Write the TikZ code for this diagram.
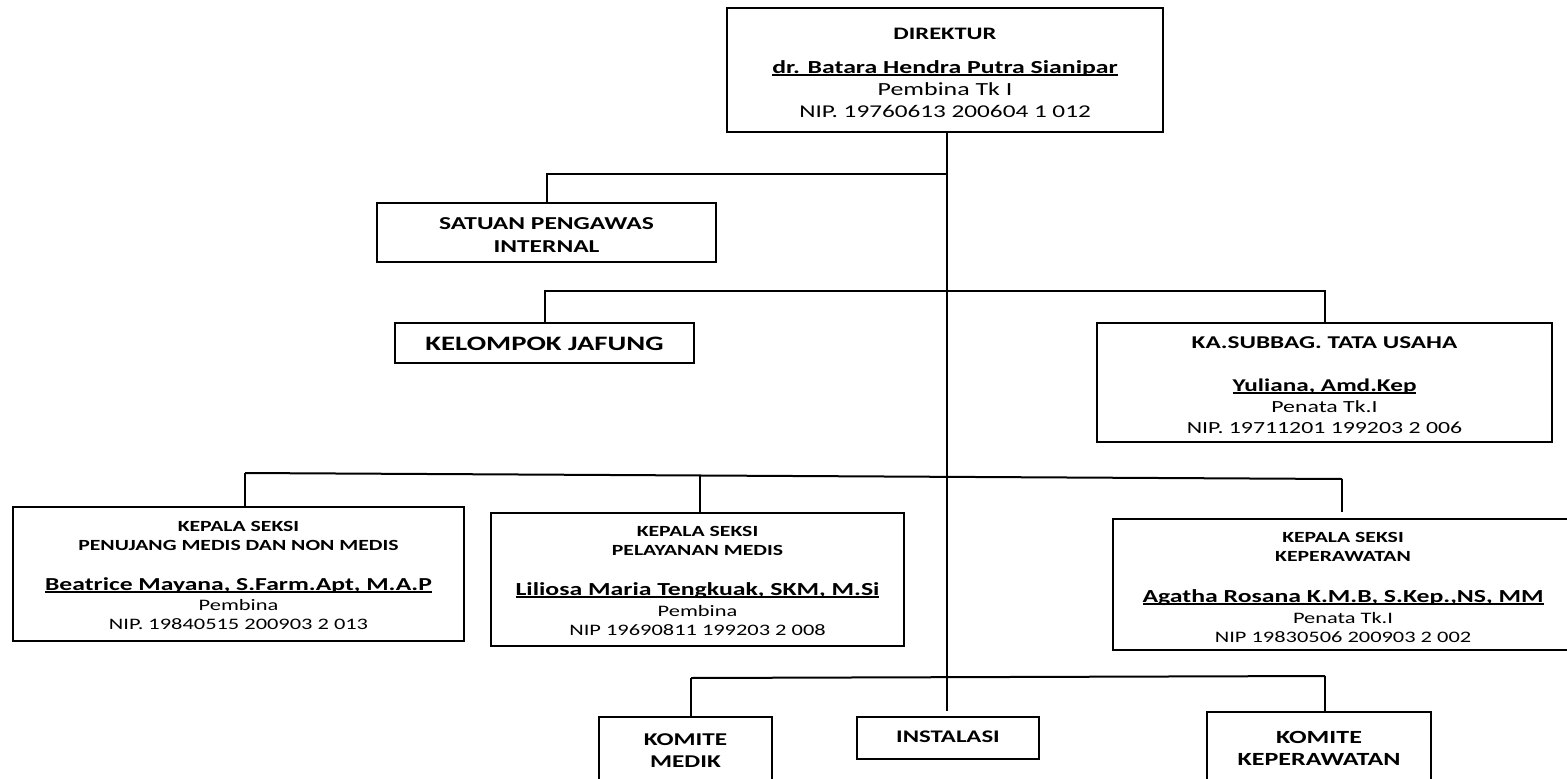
\documentclass[tikz,border=0pt]{standalone}
\usepackage{fontspec}
\setmainfont{Carlito}[FakeStretch=1.4]
\newcommand{\fz}[1]{\fontsize{#1}{#1}\selectfont}
\newcommand{\myul}[1]{\setbox0=\hbox{#1}\rlap{\rule[-2.6pt]{\wd0}{1.3pt}}\box0}
\tikzset{
  box/.style={draw=black, line width=2.4pt, rectangle, inner sep=0pt, outer sep=0pt},
  txt/.style={inner sep=0pt, outer sep=0pt, anchor=base, text=black},
  conn/.style={draw=black, line width=2pt},
}
\begin{document}
\begin{tikzpicture}[x=1pt,y=-1pt]
\useasboundingbox[fill=white] (0,0) rectangle (1567,779);

% ---------- boxes ----------
\node[box, minimum width=436pt, minimum height=124pt] (dir) at (945,70) {};
\node[box, minimum width=339pt, minimum height=59pt] (spi) at (546.5,232.5) {};
\node[box, minimum width=299pt, minimum height=40pt] (kel) at (544.5,343) {};
\node[box, minimum width=455pt, minimum height=119pt] (ka) at (1324.5,382.5) {};
\node[box, minimum width=451pt, minimum height=134pt] (s1) at (238.5,574) {};
\node[box, minimum width=413pt, minimum height=133pt] (s2) at (697.5,579.5) {};
\node[box, minimum width=460pt, minimum height=131pt] (s3) at (1343,584.5) {};
\node[box, minimum width=173pt, minimum height=73pt] (km) at (685.5,753.5) {};
\node[box, minimum width=182pt, minimum height=42pt] (ins) at (948,738) {};
\node[box, minimum width=224pt, minimum height=78pt] (kk) at (1319,751) {};

% ---------- texts ----------
% Direktur
\node[txt] (dir1) at (945,39) {\fz{17.5}\bfseries DIREKTUR};
\node[txt] (dir2) at (945,73) {\fz{18.4}\bfseries\myul{dr. Batara Hendra Putra Sianipar}};
\node[txt] (dir3) at (945,95) {\fz{18.5}Pembina Tk I};
\node[txt] (dir4) at (945,117) {\fz{18}NIP. 19760613 200604 1 012};
% SPI
\node[txt] (spi1) at (546.5,229) {\fz{18.2}\bfseries SATUAN PENGAWAS};
\node[txt] (spi2) at (546.5,252) {\fz{18.2}\bfseries INTERNAL};
% Kelompok Jafung
\node[txt] (kel1) at (544.5,350.5) {\fz{20.5}\bfseries KELOMPOK JAFUNG};
% Ka Subbag
\node[txt] (ka1) at (1324.5,348) {\fz{18}\bfseries KA.SUBBAG. TATA USAHA};
\node[txt] (ka2) at (1324.5,391) {\fz{18}\bfseries\myul{Yuliana, Amd.Kep}};
\node[txt] (ka3) at (1324.5,412) {\fz{17}Penata Tk.I};
\node[txt] (ka4) at (1324.5,433) {\fz{17}NIP. 19711201 199203 2 006};
% Seksi 1
\node[txt] (s1a) at (238.5,531) {\fz{15.5}\bfseries KEPALA SEKSI};
\node[txt] (s1b) at (238.5,550) {\fz{15.5}\bfseries PENUJANG MEDIS DAN NON MEDIS};
\node[txt] (s1c) at (238.5,590) {\fz{18.3}\bfseries\myul{Beatrice Mayana, S.Farm.Apt, M.A.P}};
\node[txt] (s1d) at (238.5,610) {\fz{16}Pembina};
\node[txt] (s1e) at (238.5,629) {\fz{16}NIP. 19840515 200903 2 013};
% Seksi 2
\node[txt] (s2a) at (697.5,536) {\fz{15.5}\bfseries KEPALA SEKSI};
\node[txt] (s2b) at (697.5,555) {\fz{15.5}\bfseries PELAYANAN MEDIS};
\node[txt] (s2c) at (697.5,595) {\fz{18.4}\bfseries\myul{Liliosa Maria Tengkuak, SKM, M.Si}};
\node[txt] (s2d) at (697.5,616) {\fz{16}Pembina};
\node[txt] (s2e) at (697.5,635) {\fz{16}NIP 19690811 199203 2 008};
% Seksi 3
\node[txt] (s3a) at (1343,542) {\fz{15.5}\bfseries KEPALA SEKSI};
\node[txt] (s3b) at (1343,561) {\fz{15.5}\bfseries KEPERAWATAN};
\node[txt] (s3c) at (1343,602) {\fz{18.4}\bfseries\myul{Agatha Rosana K.M.B, S.Kep.,NS, MM}};
\node[txt] (s3d) at (1343,623) {\fz{16}Penata Tk.I};
\node[txt] (s3e) at (1343,642) {\fz{16}NIP 19830506 200903 2 002};
% Bottom
\node[txt] (km1) at (685.5,745) {\fz{18}\bfseries KOMITE};
\node[txt] (km2) at (685.5,767) {\fz{18}\bfseries MEDIK};
\node[txt] (ins1) at (948,742) {\fz{17.7}\bfseries INSTALASI};
\node[txt] (kk1) at (1319,743) {\fz{18.6}\bfseries KOMITE};
\node[txt] (kk2) at (1319,765) {\fz{18.6}\bfseries KEPERAWATAN};

% ---------- connectors ----------
\coordinate (trunkTop) at (947,132);
\coordinate (trunkEnd) at (947,711);
\coordinate (b1) at (947,174);
\coordinate (b2) at (947,291);
\coordinate (h3L) at (245,473);
\coordinate (h3M) at (700,476);
\coordinate (h3R) at (1342,479);
\coordinate (h4L) at (691,678);
\coordinate (h4R) at (1325,676);

\draw[conn] (trunkTop) -- (trunkEnd);
\draw[conn] (b1) -| (spi.north);
\draw[conn] (kel.north) |- (b2) -| (ka.north);
\draw[conn] (h3L) -- (h3R);
\draw[conn] (h3L) -- (h3L |- s1.north);
\draw[conn] (h3M) -- (h3M |- s2.north);
\draw[conn, shorten >=7pt] (h3R) -- (h3R |- s3.north);
\draw[conn] (h4L) -- (h4R);
\draw[conn] (h4L) -- (h4L |- km.north);
\draw[conn] (h4R) -- (h4R |- kk.north);
\end{tikzpicture}
\end{document}
